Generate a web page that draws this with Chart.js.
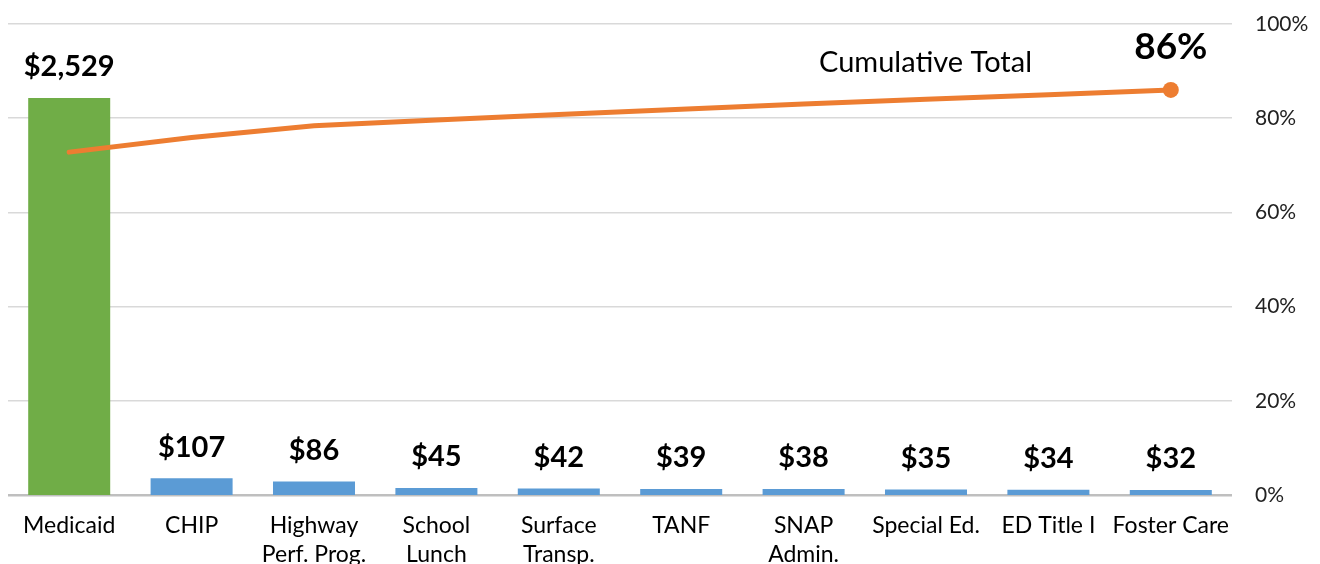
<!DOCTYPE html>
<html>
<head>
<meta charset="utf-8">
<script src="https://cdn.jsdelivr.net/npm/chart.js@4"></script>
<style>
  html, body { margin: 0; padding: 0; background: #fff; overflow: hidden; }
  #wrap { width: 1320px; height: 564px; }
</style>
</head>
<body>
<div id="wrap"><canvas id="myChart" width="1320" height="564"></canvas></div>
<script>
// program names (multi-line labels like the original)
var programs = [
  "Medicaid", "CHIP", ["Highway", "Perf. Prog."], ["School", "Lunch"], ["Surface", "Transp."],
  "TANF", ["SNAP", "Admin."], "Special Ed.", "ED Title I", "Foster Care"
];

// spending, $ (label values)
var spending = [2529, 107, 86, 45, 42, 39, 38, 35, 34, 32];

// cumulative share of the total
var cumulative = [72.8, 75.9, 78.4, 79.6, 80.8, 81.9, 83.0, 84.0, 85.0, 86.0];

// right axis ticks
var pctTicks = [0, 20, 40, 60, 80, 100];

var barColors = [];
for (var i = 0; i < spending.length; i++) {
  barColors.push(i === 0 ? '#70AD47' : '#5B9BD5');
}
var pointSizes = [];
for (var j = 0; j < cumulative.length; j++) {
  pointSizes.push(j === cumulative.length - 1 ? 8 : 0);
}

var labelFont = "Lato, 'Open Sans', sans-serif";

// draws the $ labels, the 86% label and the series caption
var valueLabels = {
  id: 'valueLabels',
  afterDatasetsDraw: function(chart) {
    var ctx = chart.ctx;
    var bars = chart.getDatasetMeta(1).data;
    ctx.save();
    ctx.fillStyle = '#000';
    ctx.textAlign = 'center';
    ctx.textBaseline = 'middle';
    ctx.font = "bold 29px " + labelFont;
    for (var i = 0; i < bars.length; i++) {
      ctx.fillText('$' + spending[i].toLocaleString('en-US'), bars[i].x, bars[i].y - 31);
    }
    var pts = chart.getDatasetMeta(0).data;
    var last = pts[pts.length - 1];
    ctx.font = "bold 37px " + labelFont;
    ctx.fillText(Math.round(cumulative[cumulative.length - 1]) + '%', last.x, last.y - 43);
    ctx.font = "29px " + labelFont;
    ctx.textAlign = 'left';
    ctx.fillText('Cumulative Total', 819, 63);
    ctx.restore();
  }
};

var ctx = document.getElementById('myChart');

var myChart = new Chart(ctx, {
  data: {
    labels: programs,
    datasets: [{
      type: 'line',
      label: 'Cumulative Total',
      data: cumulative,
      yAxisID: 'y1',
      borderColor: '#ED7D31',
      backgroundColor: '#ED7D31',
      borderWidth: 5,
      borderCapStyle: 'round',
      pointRadius: pointSizes,
      pointHoverRadius: pointSizes,
      pointBorderWidth: 0,
      tension: 0,
      order: 0
    }, {
      type: 'bar',
      label: 'Spending',
      data: spending,
      yAxisID: 'y',
      backgroundColor: barColors,
      categoryPercentage: 1,
      barPercentage: 0.67,
      order: 1
    }]
  },
  plugins: [valueLabels],
  options: {
    responsive: false,
    animation: false,
    layout: { padding: { left: 8, top: 24, right: 0, bottom: 0 } },
    plugins: {
      legend: { display: false },
      tooltip: { enabled: false }
    },
    scales: {
      x: {
        grid: { display: false, drawTicks: false },
        border: { display: false },
        ticks: {
          color: '#000',
          font: { family: labelFont, size: 23, lineHeight: 1.22 },
          padding: 17,
          maxRotation: 0,
          autoSkip: false
        },
        afterFit: function(s) { s.height = 69; }
      },
      y: {
        display: false,
        min: 0,
        max: 3000
      },
      y1: {
        position: 'right',
        min: 0,
        max: 100,
        afterBuildTicks: function(s) {
          s.ticks = pctTicks.map(function(v) { return { value: v }; });
        },
        grid: {
          drawTicks: true,
          tickLength: 23,
          tickColor: 'rgba(0,0,0,0)',
          color: function(c) { return c.tick && c.tick.value === 0 ? '#bfbfbf' : '#d9d9d9'; },
          lineWidth: function(c) { return c.tick && c.tick.value === 0 ? 2.5 : 1.5; }
        },
        border: { display: false },
        ticks: {
          color: '#222',
          font: { family: labelFont, size: 21 },
          padding: 0,
          callback: function(v) { return v + '%'; }
        },
        afterFit: function(s) { s.width = 88; }
      }
    }
  }
});
</script>
</body>
</html>
